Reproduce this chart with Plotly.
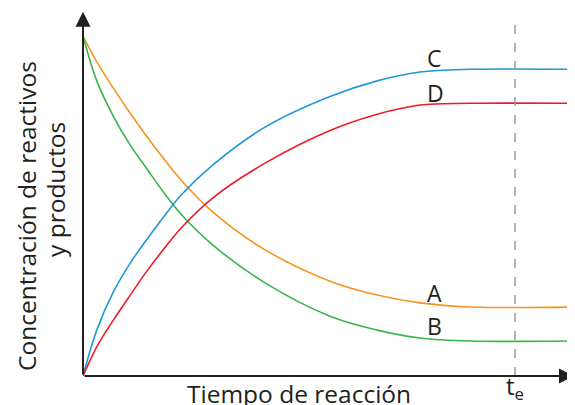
import plotly.graph_objects as go

# tiempo (unidades arbitrarias) y concentraciones relativas
tiempo = [0, 0.28, 0.62, 0.96, 1.29, 1.63, 2.0, 2.64, 3.70, 5.02, 5.98, 6.85, 7.87, 10]
conc_a = [1.0, 0.924, 0.846, 0.773, 0.706, 0.641, 0.575, 0.482, 0.371, 0.279, 0.238, 0.215, 0.203, 0.203]
conc_b = [1.0, 0.868, 0.763, 0.679, 0.611, 0.542, 0.475, 0.385, 0.274, 0.176, 0.135, 0.112, 0.103, 0.103]
conc_c = [0, 0.135, 0.248, 0.332, 0.400, 0.466, 0.533, 0.621, 0.732, 0.822, 0.868, 0.894, 0.902, 0.902]
conc_d = [0, 0.086, 0.165, 0.238, 0.307, 0.371, 0.436, 0.524, 0.626, 0.722, 0.770, 0.797, 0.802, 0.802]

series = [
    ("A", conc_a, "#f7941d"),
    ("B", conc_b, "#39b54a"),
    ("C", conc_c, "#1e98d6"),
    ("D", conc_d, "#ed1c24"),
]
etiquetas_x = [7.15, 7.15, 7.15, 7.17]
etiquetas_y = [0.244, 0.147, 0.935, 0.832]
t_e = 8.78

FONT = "Open Sans"
AXIS_COLOR = "#231f20"

# the page body adds 8px of margin, so everything is laid out 8px up/left
W, H = 575, 405
ML, MR, MT, MB = 75, 8, 0, 37
PLOT_H = H - MT - MB


def paper_y(ref_px):
    # reference pixel row -> paper y (x axis sits on reference row 376)
    return (376 - ref_px) / PLOT_H


def paper_x(ref_px):
    return (ref_px - 83) / (W - ML - MR)


fig = go.Figure()
for nombre, valores, color in series:
    fig.add_trace(
        go.Scatter(
            x=tiempo,
            y=valores,
            mode="lines",
            line=dict(color=color, width=1.6, shape="spline", smoothing=1.0),
            name=nombre,
            showlegend=False,
        )
    )

annotations = []
for (nombre, _, _), lx, ly in zip(series, etiquetas_x, etiquetas_y):
    annotations.append(
        dict(x=lx, y=ly, text=nombre, showarrow=False,
             xanchor="center", yanchor="middle",
             font=dict(family=FONT, size=23, color=AXIS_COLOR))
    )

# ejes con flechas
annotations.append(
    dict(x=9.98, y=0, ax=0, ay=0, xref="x", yref="y", axref="x", ayref="y",
         text="", showarrow=True, arrowhead=2, arrowsize=1.5, arrowwidth=2,
         arrowcolor=AXIS_COLOR, standoff=0)
)
annotations.append(
    dict(x=0, y=1.071, ax=0, ay=0, xref="x", yref="y", axref="x", ayref="y",
         text="", showarrow=True, arrowhead=2, arrowsize=1.5, arrowwidth=2,
         arrowcolor=AXIS_COLOR, standoff=0)
)

annotations.append(
    dict(x=t_e / 10, y=paper_y(387), xref="paper", yref="paper",
         text="t<sub>e</sub>", showarrow=False, xanchor="center", yanchor="middle",
         font=dict(family=FONT, size=24, color=AXIS_COLOR))
)
annotations.append(
    dict(x=paper_x(299), y=paper_y(393), xref="paper", yref="paper",
         text="Tiempo de reacción", showarrow=False, xanchor="center", yanchor="middle",
         font=dict(family=FONT, size=24.5, color=AXIS_COLOR))
)
annotations.append(
    dict(x=paper_x(26), y=paper_y(216), xref="paper", yref="paper",
         text="Concentración de reactivos", showarrow=False, textangle=-90,
         xanchor="center", yanchor="middle",
         font=dict(family=FONT, size=24.5, color=AXIS_COLOR))
)
annotations.append(
    dict(x=paper_x(55), y=paper_y(190), xref="paper", yref="paper",
         text="y productos", showarrow=False, textangle=-90,
         xanchor="center", yanchor="middle",
         font=dict(family=FONT, size=24.5, color=AXIS_COLOR))
)

fig.add_shape(
    type="line", x0=t_e, x1=t_e, y0=0, y1=1.04, xref="x", yref="y",
    line=dict(color="#9a9a9a", width=1.5, dash="dash"),
)

fig.update_layout(
    width=W,
    height=H,
    margin=dict(l=ML, r=MR, t=MT, b=MB),
    plot_bgcolor="white",
    paper_bgcolor="white",
    xaxis=dict(range=[0, 10], visible=False, fixedrange=True),
    yaxis=dict(range=[0, 368 / 340], visible=False, fixedrange=True),
    annotations=annotations,
    showlegend=False,
)

fig.write_html("out.html")
